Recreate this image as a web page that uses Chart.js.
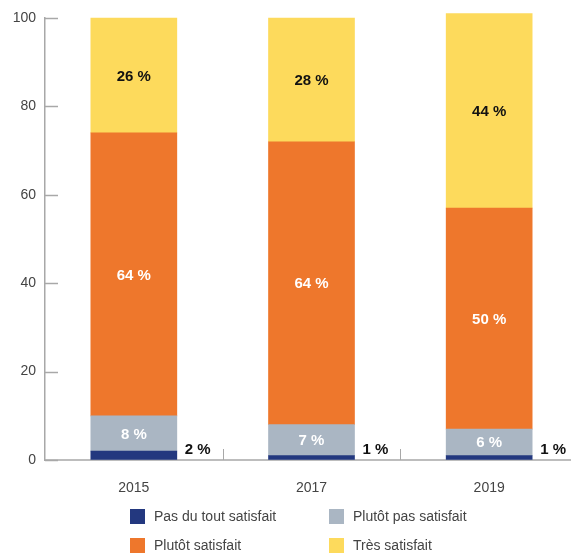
<!DOCTYPE html>
<html lang="fr">
<head>
<meta charset="utf-8">
<script src="https://cdn.jsdelivr.net/npm/chart.js@4/dist/chart.umd.min.js"></script>
<style>
  html, body { margin: 0; padding: 0; background: #fff; overflow: hidden; }
  #cadre { position: relative; width: 571px; height: 554px; overflow: hidden; }
  #graphique { position: absolute; left: 0; top: 0; }
  .legende-item { position: absolute; font: 14px "Liberation Sans", Arial, sans-serif; color: #444; white-space: nowrap; }
  .legende-item span.carre { position: absolute; width: 15px; height: 15px; left: 0; top: 0; }
  .legende-item span.texte { position: absolute; left: 24px; top: -1px; }
</style>
</head>
<body>
<div id="cadre">
  <canvas id="graphique" width="600" height="554"></canvas>
  <div id="legende"></div>
</div>
<script>
const annees = ['2015', '2017', '2019'];
const pasDuTout = [2, 1, 1];
const plutotPas = [8, 7, 6];
const plutotSatisfait = [64, 64, 50];
const tresSatisfait = [26, 28, 44];
const ticksY = [0, 20, 40, 60, 80, 100];

const police = '"Liberation Sans", Arial, sans-serif';

// étiquettes de valeur : dans la barre, sauf la première série posée à droite
const etiquettesValeurs = {
  id: 'etiquettesValeurs',
  afterDatasetsDraw(chart) {
    const ctx = chart.ctx;
    ctx.save();
    ctx.font = 'bold 15px ' + police;
    chart.data.datasets.forEach((ds, i) => {
      const meta = chart.getDatasetMeta(i);
      meta.data.forEach((bar, j) => {
        const texte = ds.data[j] + ' %';
        if (i === 0) {
          ctx.fillStyle = '#111';
          ctx.textAlign = 'left';
          ctx.textBaseline = 'alphabetic';
          ctx.fillText(texte, bar.x + bar.width / 2 + 8, bar.base - 6);
        } else {
          ctx.fillStyle = ds.couleurTexte;
          ctx.textAlign = 'center';
          ctx.textBaseline = 'middle';
          ctx.fillText(texte, bar.x, (bar.y + bar.base) / 2 + 1);
        }
      });
    });
    ctx.restore();
  }
};

// petits traits des axes tournés vers l'intérieur
const traitsAxes = {
  id: 'traitsAxes',
  afterDraw(chart) {
    const ctx = chart.ctx;
    const y = chart.scales.y;
    const x = chart.scales.x;
    const area = chart.chartArea;
    ctx.save();
    ctx.strokeStyle = '#a8a8a8';
    ctx.lineWidth = 1.5;
    ticksY.forEach(v => {
      const py = Math.round(y.getPixelForValue(v)) + 0.5;
      ctx.beginPath();
      ctx.moveTo(area.left, py);
      ctx.lineTo(area.left + 13, py);
      ctx.stroke();
    });
    ctx.lineWidth = 1;
    for (let i = 0; i < annees.length - 1; i++) {
      const px = Math.round((x.getPixelForTick(i) + x.getPixelForTick(i + 1)) / 2) + 0.5;
      ctx.beginPath();
      ctx.moveTo(px, area.bottom);
      ctx.lineTo(px, area.bottom - 11);
      ctx.stroke();
    }
    ctx.restore();
  }
};

const ctx = document.getElementById('graphique').getContext('2d');
const graphique = new Chart(ctx, {
  type: 'bar',
  data: {
    labels: annees,
    datasets: [
      { label: 'Pas du tout satisfait', data: pasDuTout, backgroundColor: '#23387f', couleurTexte: '#fff' },
      { label: 'Plutôt pas satisfait', data: plutotPas, backgroundColor: '#aab6c3', couleurTexte: '#fff' },
      { label: 'Plutôt satisfait', data: plutotSatisfait, backgroundColor: '#ee772c', couleurTexte: '#fff' },
      { label: 'Très satisfait', data: tresSatisfait, backgroundColor: '#fdda5c', couleurTexte: '#111', clip: false }
    ]
  },
  options: {
    responsive: false,
    animation: false,
    layout: { padding: { top: 18, right: 22, left: 0, bottom: 0 } },
    datasets: { bar: { barThickness: 86, borderWidth: 0 } },
    plugins: {
      legend: { display: false },
      tooltip: { enabled: false }
    },
    scales: {
      x: {
        stacked: true,
        grid: { display: true, drawOnChartArea: false, drawTicks: false },
        border: { color: '#bdbdbd', width: 2 },
        ticks: { color: '#444', padding: 20, font: { family: police, size: 14 } },
        afterFit(s) { s.height = 94; }
      },
      y: {
        stacked: true,
        min: 0,
        max: 100,
        grid: { display: true, drawOnChartArea: false, drawTicks: false },
        border: { color: '#a8a8a8', width: 1.5 },
        ticks: { stepSize: 20, color: '#444', padding: 9, font: { family: police, size: 14 } },
        afterFit(s) { s.width = 45; }
      }
    }
  },
  plugins: [etiquettesValeurs, traitsAxes]
});

// légende sur deux colonnes
const positions = [[130, 509], [329, 509], [130, 538], [329, 538]];
const legende = document.getElementById('legende');
graphique.data.datasets.forEach((ds, i) => {
  const item = document.createElement('div');
  item.className = 'legende-item';
  item.style.left = positions[i][0] + 'px';
  item.style.top = positions[i][1] + 'px';
  item.innerHTML = '<span class="carre" style="background:' + ds.backgroundColor + '"></span><span class="texte">' + ds.label + '</span>';
  legende.appendChild(item);
});
</script>
</body>
</html>
